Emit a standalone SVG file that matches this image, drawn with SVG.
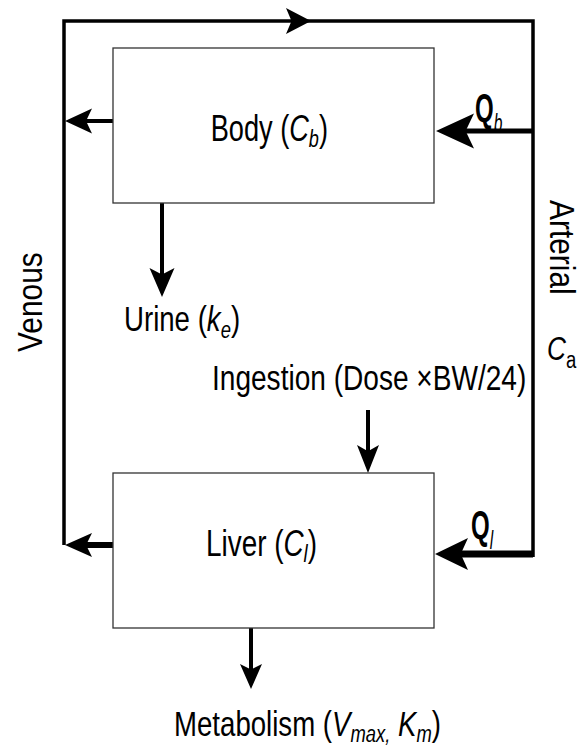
<svg xmlns="http://www.w3.org/2000/svg" width="581" height="746" viewBox="0 0 581 746">
<defs>
<path id="ah" d="M0,0 L-1,-0.5 L-0.78,0 L-1,0.5 Z" fill="#000"/>
</defs>
<style>
text{font-family:"Liberation Sans",Arial,sans-serif;font-size:36px;fill:#000}
.i{font-style:italic}
.s{font-size:24px;font-style:italic}
.q{font-size:40px;font-weight:bold}
.qs{font-size:26px;font-style:italic;font-weight:normal}
.box{fill:#fff;stroke:#333;stroke-width:1.3}
.ln{stroke:#000;fill:none;stroke-linecap:butt}
</style>
<rect width="581" height="746" fill="#fff"/>
<g id="connectors">
<path class="ln" d="M64,545 V21 H533 V557" stroke-width="3.5"/>
<use href="#ah" transform="translate(311,21) scale(25,26)"/>
<path class="ln" d="M113,121 H85" stroke-width="4"/>
<use href="#ah" transform="translate(65,121) rotate(180) scale(27,25)"/>
<path class="ln" d="M533,131 H460" stroke-width="5"/>
<use href="#ah" transform="translate(436,131) rotate(180) scale(38,35)"/>
<path class="ln" d="M162,203 V275" stroke-width="4"/>
<use href="#ah" transform="translate(162,297) rotate(90) scale(29,25)"/>
<path class="ln" d="M368,410 V452" stroke-width="4"/>
<use href="#ah" transform="translate(368,473) rotate(90) scale(28,22)"/>
<path class="ln" d="M113,545 H85" stroke-width="6"/>
<use href="#ah" transform="translate(65,545) rotate(180) scale(27,24)"/>
<path class="ln" d="M533,554 H460" stroke-width="7"/>
<use href="#ah" transform="translate(435,554) rotate(180) scale(33,32)"/>
<path class="ln" d="M251,628 V670" stroke-width="4"/>
<use href="#ah" transform="translate(251,689) rotate(90) scale(25,22)"/>
</g>
<g id="body">
<rect class="box" x="113" y="48" width="321" height="155"/>
<text transform="translate(210.7,141) scale(0.755,1)">Body (<tspan class="i">C</tspan><tspan class="s" dy="6">b</tspan><tspan dy="-6">)</tspan></text>
</g>
<g id="liver">
<rect class="box" x="113" y="473" width="321" height="155"/>
<text transform="translate(206,556) scale(0.775,1)">Liver (<tspan class="i">C</tspan><tspan class="s" dy="6">l</tspan><tspan dy="-6">)</tspan></text>
</g>
<g id="urine">
<text transform="translate(124,331) scale(0.767,1)">Urine (<tspan class="i">k</tspan><tspan class="s" dy="7">e</tspan><tspan dy="-7">)</tspan></text>
</g>
<g id="ingestion">
<text transform="translate(212,390) scale(0.78,1)">Ingestion (Dose ×BW/24)</text>
</g>
<g id="metabolism">
<text transform="translate(174,736) scale(0.767,1)">Metabolism (<tspan class="i">V</tspan><tspan class="s" dy="6">max,</tspan><tspan dy="-6"> </tspan><tspan class="i">K</tspan><tspan class="s" dy="6">m</tspan><tspan dy="-6">)</tspan></text>
</g>
<g id="venous">
<text transform="translate(42,352) rotate(-90) scale(0.83,1)">Venous</text>
</g>
<g id="arterial">
<text transform="translate(550,200) rotate(90) scale(0.83,1)">Arterial</text>
</g>
<g id="ca">
<text transform="translate(547,360) scale(0.77,1)" style="font-size:34px"><tspan class="i">C</tspan><tspan style="font-size:24px" dy="8">a</tspan></text>
</g>
<g id="qb">
<text class="q" transform="translate(475,122) scale(0.6,1)">Q<tspan class="qs" dy="10">b</tspan></text>
</g>
<g id="ql">
<text class="q" transform="translate(471,539) scale(0.6,1)">Q<tspan class="qs" dy="10">l</tspan></text>
</g>
</svg>
